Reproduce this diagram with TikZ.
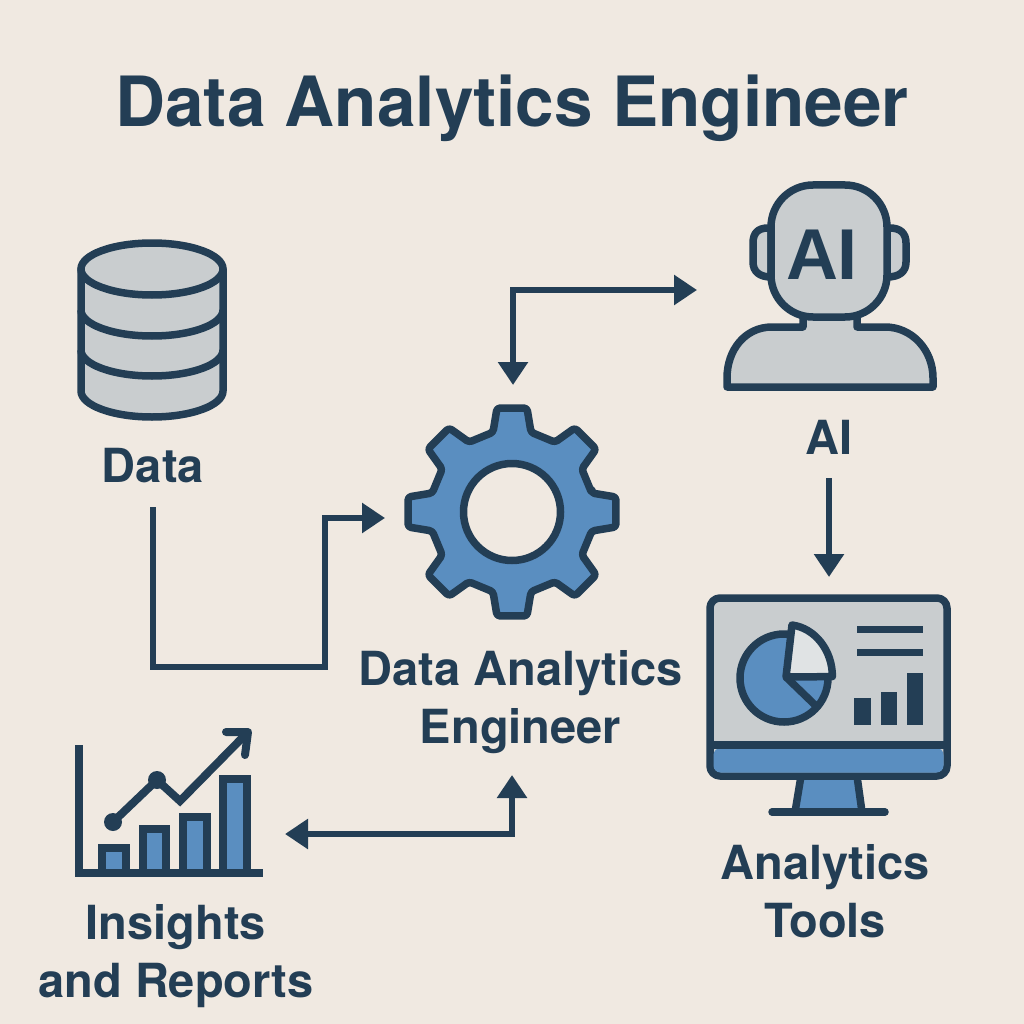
\documentclass[tikz,border=0pt]{standalone}
\usepackage{fontspec}
\setmainfont{TeX Gyre Heros}
\newfontfamily\aifont{Liberation Sans}
\usetikzlibrary{arrows.meta}
\definecolor{bgc}{HTML}{F0E9E1}
\definecolor{dark}{HTML}{233E55}
\definecolor{blu}{HTML}{5A8EC0}
\definecolor{gry}{HTML}{C9CDCF}
\definecolor{lgt}{HTML}{E0E3E4}
\tikzset{
  conn/.style={draw=dark,line width=6.5pt,miter limit=10},
  tip/.style={-{Triangle[length=23pt,width=29pt]}},
  bitip/.style={{Triangle[length=23pt,width=29pt]}-{Triangle[length=23pt,width=29pt]}},
  icon/.style={draw=dark,line width=7.5pt,line join=round},
  port/.style={inner sep=0pt,outer sep=0pt},
  lab/.style={anchor=base,inner sep=0pt,outer sep=0pt,text=dark,align=center,font=\bfseries\fontsize{47}{57.5}\selectfont},
}
\begin{document}
\begin{tikzpicture}[x=1pt,y=-1pt]
\fill[bgc] (0,0) rectangle (1024,1024);
\useasboundingbox (0,0) rectangle (1024,1024);

\node[anchor=base,inner sep=0pt,text=dark,font=\bfseries\fontsize{69.3}{70}\selectfont] (title) at (512,127) {Data Analytics Engineer};

% database
\draw[icon,fill=gry] (81,269) -- (81,391) arc[start angle=180,end angle=0,x radius=71,y radius=26] -- (223,269) -- cycle;
\draw[icon,fill=gry] (152,269) ellipse[x radius=71,y radius=26];
\draw[icon] (81,310) arc[start angle=180,end angle=0,x radius=71,y radius=26];
\draw[icon] (81,350) arc[start angle=180,end angle=0,x radius=71,y radius=26];
\node[lab] (dataLabel) at (153,482) {Data};

% AI person
\draw[icon,fill=gry] (771,228) -- (768,228) .. controls (758,228) and (753,233) .. (753,243) -- (753,262) .. controls (753,272) and (760,277) .. (771,277) -- cycle;
\draw[icon,fill=gry] (887,228) -- (890,228) .. controls (900,228) and (906,233) .. (906,243) -- (906,262) .. controls (906,272) and (899,277) .. (887,277) -- cycle;
\draw[icon,fill=gry] (803,317) -- (803,327) -- (772,327) .. controls (745,327) and (727,350) .. (727,378) -- (727,387) -- (933,387) -- (933,378) .. controls (933,350) and (912,327) .. (885,327) -- (857,327) -- (857,317);
\draw[icon,fill=gry,rounded corners=42pt] (771,185) rectangle (887,317);
\node[anchor=base,inner sep=0pt,text=dark,font=\aifont\bfseries\fontsize{72}{72}\selectfont] (aiGlyph) at (822,279) {AI};
\node[lab] (aiLabel) at (829,454) {AI};
\node[port,minimum width=264pt,minimum height=210pt] (aiIcon) at (829,290) {};

% gear
\begin{scope}[shift={(512,512)}]
\draw[icon,fill=blu,rounded corners=3pt] (-13.4:82)
  \foreach \a in {0,45,...,315}{ -- ({\a-13.4}:82) -- ({\a-8.2}:105) -- ({\a+8.2}:105) -- ({\a+13.4}:82) } -- cycle;
\draw[icon,fill=bgc] (0,0) circle[radius=48.5];
\end{scope}
\node[port,minimum width=256pt,minimum height=254pt] (gear) at (513,512) {};
\node[lab] (gearLabel) at (520.5,743) {Data Analytics\\Engineer};

% monitor
\draw[icon,fill=blu] (801,776) -- (795,812) -- (862,812) -- (857,776) -- cycle;
\draw[icon,line cap=round] (772,812) -- (885,812);
\draw[icon,fill=gry,rounded corners=10pt] (710,598) rectangle (947,776);
\begin{scope}
\clip[rounded corners=7pt] (713.5,748) rectangle (943.5,772.5);
\fill[blu] (713,745) rectangle (944,773);
\end{scope}
\draw[icon] (710,745) -- (947,745);
\draw[icon,fill=blu] (784,678) circle[radius=44];
\draw[icon,line join=miter] (786,677) -- (815,705);
\draw[icon,fill=lgt] (786,677) -- (792,625) arc[start angle=-83,end angle=0,x radius=46,y radius=52] -- cycle;
\fill[dark] (857,626) rectangle (923,633);
\fill[dark] (857,649) rectangle (923,656);
\fill[dark] (854,698) rectangle (871,725);
\fill[dark] (881,692) rectangle (897,725);
\fill[dark] (907,673) rectangle (923,725);
\node[lab] (toolsLabel) at (825,937) {Analytics\\Tools};
\node[port,minimum width=264pt,minimum height=220pt] (monitor) at (829,687) {};

% chart
\draw[icon,fill=blu,line join=miter] (102,873) -- (102,848) -- (126,848) -- (126,873);
\draw[icon,fill=blu,line join=miter] (143,873) -- (143,829) -- (166,829) -- (166,873);
\draw[icon,fill=blu,line join=miter] (183,873) -- (183,817) -- (207,817) -- (207,873);
\draw[icon,fill=blu,line join=miter] (223,873) -- (223,779) -- (247,779) -- (247,873);
\draw[icon,line join=miter] (79,745) -- (79,873) -- (263,873);
\draw[draw=dark,line width=8pt,line join=miter] (113,822) -- (157,780) -- (180,801) -- (247,733);
\draw[draw=dark,line width=8pt,line cap=round,line join=round] (226,732) -- (248,732) -- (245,755);
\fill[dark] (113,822) circle[radius=9];
\fill[dark] (157,780) circle[radius=9];
\node[port,minimum width=225pt,minimum height=168pt] (chart) at (172.5,808) {};
\node[lab] (insightsLabel) at (176,997) {Insights\\and Reports};

% connectors
\coordinate (dataStart) at (153,507);
\coordinate (aiStart) at (829,478);
\coordinate (elbowData) at (325,667);
\coordinate (gearIn) at (512,775);
\draw[conn,tip] (dataStart) |- (elbowData) |- ([yshift=-6pt]gear.west);
\draw[conn,bitip] (gear.north) |- (aiIcon.west);
\draw[conn,tip] (aiStart) -- (monitor.north);
\draw[conn,bitip] ([yshift=-26pt]chart.east) -| (gearIn);
\end{tikzpicture}
\end{document}
